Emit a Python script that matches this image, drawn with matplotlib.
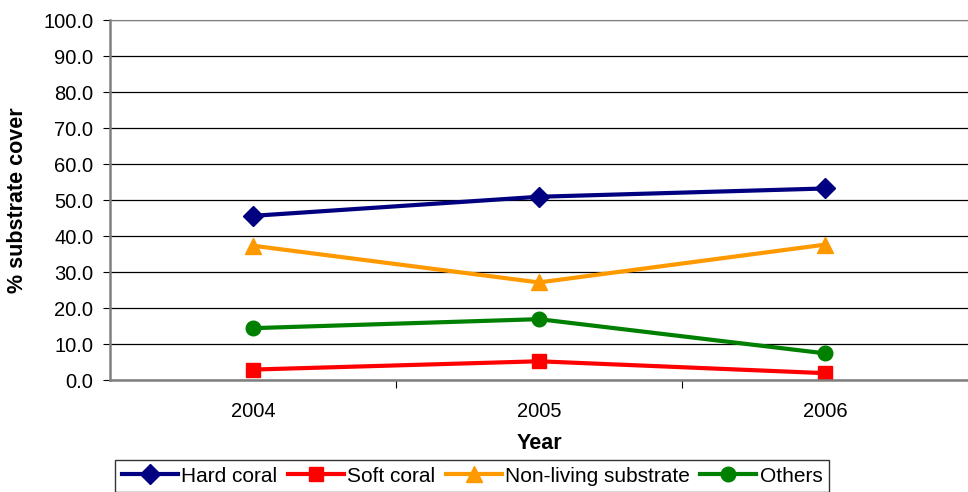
import matplotlib.pyplot as plt

plt.rcParams['font.family'] = ['Liberation Sans', 'DejaVu Sans']

years = ['2004', '2005', '2006']
hard_coral = [45.6, 50.9, 53.2]
soft_coral = [2.9, 5.2, 1.9]
non_living = [37.3, 27.1, 37.6]
others = [14.4, 16.9, 7.4]

fig = plt.figure(figsize=(9.68, 4.92), dpi=100)
ax = fig.add_axes([110/968, 1-380/492, 858/968, 360/492])

x = range(len(years))
ax.plot(x, hard_coral, color='#000080', marker='D', markersize=10, lw=3, label='Hard coral')
ax.plot(x, soft_coral, color='#ff0000', marker='s', markersize=10, lw=3, label='Soft coral')
ax.plot(x, non_living, color='#ff9900', marker='^', markersize=12, lw=3, label='Non-living substrate')
ax.plot(x, others, color='#008000', marker='o', markersize=10.5, lw=3, label='Others')

ax.set_xlim(-0.5, 2.5)
ax.set_ylim(0, 100)
ax.set_yticks(range(0, 101, 10))
ax.set_yticklabels(['%.1f' % v for v in range(0, 101, 10)], fontsize=14.5)
ax.yaxis.grid(True, color='black', lw=0.9)
ax.set_axisbelow(True)

ax.set_xticks([0.5, 1.5])
ax.set_xticklabels([])
ax.set_xticks(list(x), minor=True)
ax.set_xticklabels(years, minor=True, fontsize=14.5)
ax.tick_params(axis='x', which='minor', length=0, pad=15.5)
ax.tick_params(axis='x', which='major', length=6, color='black')
ax.tick_params(axis='y', length=5, color='black', pad=7)

ax.spines['right'].set_visible(False)
ax.spines['top'].set_color('#808080')
for s in ['left', 'bottom']:
    ax.spines[s].set_color('#808080')
    ax.spines[s].set_linewidth(1.8)

ax.set_xlabel('Year', fontsize=15.5, fontweight='bold')
ax.xaxis.set_label_coords(0.5, -(433-380)/360)
ax.set_ylabel('% substrate cover', fontsize=15.5, fontweight='bold')
ax.yaxis.set_label_coords(-(110-28)/858, 0.5)

leg = fig.legend(loc='upper left', bbox_to_anchor=(115/968, 1-460/492), ncol=4,
                 fontsize=15, frameon=True, fancybox=False, edgecolor='black',
                 handlelength=2.7, handletextpad=0.15, columnspacing=0.5,
                 borderpad=0.32, borderaxespad=0)
leg.get_frame().set_linewidth(1.0)

fig.savefig('out.png', dpi=100)
